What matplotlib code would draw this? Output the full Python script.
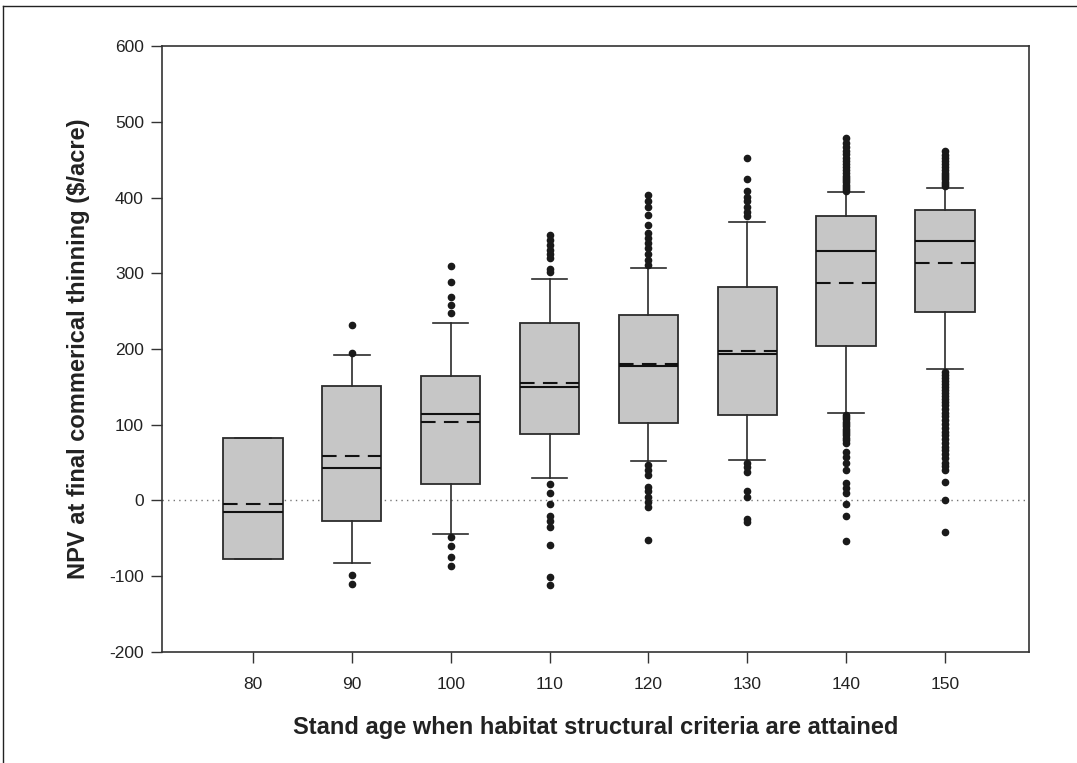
import matplotlib.pyplot as plt
from matplotlib.lines import Line2D

plt.rcParams['font.family'] = ['Liberation Sans', 'DejaVu Sans']
plt.rcParams['axes.unicode_minus'] = False

ages = [80, 90, 100, 110, 120, 130, 140, 150]
q1 = [-77.6, -26.6, 21.4, 87.8, 102.7, 112.9, 203.6, 249.4]
q3 = [82.9, 151.6, 164.4, 234.8, 244.9, 281.5, 375.5, 383.0]
median = [-15.2, 42.9, 114.2, 149.4, 178.0, 193.4, 330.0, 343.0]
mean = [-4.2, 59.2, 103.2, 155.1, 179.8, 197.4, 287.0, 313.0]
whisk_lo = [-77.6, -82.1, -44.6, 29.3, 52.1, 53.0, 116.0, 173.5]
whisk_hi = [82.9, 192.0, 234.7, 292.0, 306.5, 367.7, 406.7, 412.7]

outliers = [
    [],
    [195, 232, -98, -110],
    [248, 258, 268, 289, 310, -48, -60, -74, -86],
    [302, 306, 320, 325, 331, 337, 344, 350,
     22, 10, -5, -21, -27, -35, -59, -101, -112],
    [311, 318, 326, 333, 340, 346, 353, 364, 377, 388, 395, 403,
     47, 40, 34, 18, 12, 5, -2, -8, -52],
    [375, 381, 388, 395, 401, 408, 424, 452,
     49, 44, 38, 12, 5, -24, -28],
    [409, 411, 414, 417, 420, 423, 426, 429, 432, 436, 440, 444, 448, 452,
     457, 462, 467, 472, 478,
     113, 110, 107, 104, 101, 98, 95, 92, 89, 86, 83, 80, 76, 64, 58, 49,
     40, 23, 16, 10, -5, -21, -54],
    [415, 418, 421, 424, 427, 430, 433, 436, 440, 444, 448, 452, 456, 461,
     170, 166, 162, 158, 154, 150, 146, 142, 138, 134, 130, 126, 121, 116,
     111, 106, 101, 96, 91, 86, 81, 76, 71, 66, 61, 56, 50, 45, 40, 24, 0, -41],
]

stats = []
for i in range(len(ages)):
    stats.append(dict(med=median[i], q1=q1[i], q3=q3[i], mean=mean[i],
                      whislo=whisk_lo[i], whishi=whisk_hi[i],
                      fliers=outliers[i]))

fig = plt.figure(figsize=(10.77, 7.63), dpi=100)
ax = fig.add_axes([0.1504, 0.1455, 0.805, 0.7942])

edge = '#2b2b2b'
ax.axhline(0, color='#777777', lw=1, ls=(0, (1, 3)), zorder=0)

ax.bxp(stats, positions=ages, widths=6, patch_artist=True,
       showmeans=True, meanline=True,
       boxprops=dict(facecolor='#c6c6c6', edgecolor=edge, linewidth=1.3),
       medianprops=dict(color='#111111', linewidth=1.5),
       meanprops=dict(color='#111111', linewidth=1.5, linestyle=(0, (7, 4))),
       whiskerprops=dict(color=edge, linewidth=1.2),
       capprops=dict(color=edge, linewidth=1.2),
       capwidths=3.6,
       flierprops=dict(marker='o', markerfacecolor='#1a1a1a',
                       markeredgecolor='#1a1a1a', markersize=4.5))

ax.set_xlim(70.8, 158.5)
ax.set_ylim(-200, 600)
ax.set_yticks(range(-200, 601, 100))
ax.set_xticks(ages)
ax.set_xticklabels([str(a) for a in ages])

for s in ax.spines.values():
    s.set_color('#333333')
    s.set_linewidth(1.2)
ax.tick_params(direction='out', length=8, width=1, color='#333333',
               labelsize=12.5, labelcolor='#222222', pad=5)
ax.tick_params(axis='x', pad=10)

ax.set_xlabel('Stand age when habitat structural criteria are attained',
              fontsize=17, fontweight='bold', color='#222222', labelpad=17)
ax.set_ylabel('NPV at final commerical thinning ($/acre)',
              fontsize=17, fontweight='bold', color='#222222', labelpad=14)

# thin frame around the figure
fig.add_artist(Line2D([3 / 1077, 3 / 1077], [0, 1 - 6 / 763],
                      transform=fig.transFigure, color='#222222', lw=1))
fig.add_artist(Line2D([3 / 1077, 1], [1 - 6 / 763, 1 - 6 / 763],
                      transform=fig.transFigure, color='#222222', lw=1))

fig.savefig('out.png', dpi=100)
